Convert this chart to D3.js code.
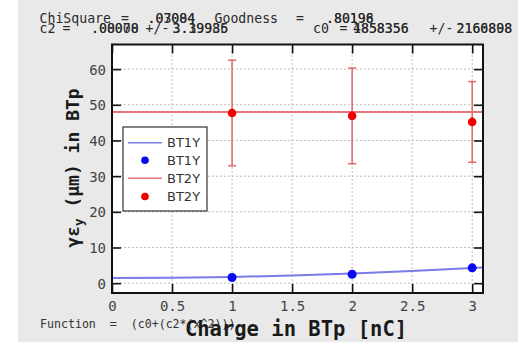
<!DOCTYPE html>
<html>
<head>
<meta charset="utf-8">
<script src="https://cdn.jsdelivr.net/npm/d3@7/dist/d3.min.js"></script>
<style>
  html, body { margin: 0; padding: 0; background: #ffffff; }
  svg { display: block; }
</style>
</head>
<body>
<script>
// Beam charge scan: vertical normalised emittance at BTp for two monitors
const charge = [1, 2, 3];                 // nC
const bt1y = [1.6, 2.5, 4.3];             // μm
const bt2y = [47.7, 46.9, 45.2];          // μm
const bt2yErr = [14.8, 13.4, 11.3];       // μm

// Fitted curves c0 + c2*x^2, sampled across the charge axis
const fitX = [0, 0.5, 1, 1.5, 2, 2.5, 3, 3.09];
const fitBt1y = [1.45, 1.53, 1.76, 2.15, 2.69, 3.39, 4.24, 4.41];
const fitBt2y = [48.0, 48.0, 48.0, 48.0, 48.0, 48.0, 48.0, 48.0];

const xTicks = [0, 0.5, 1, 1.5, 2, 2.5, 3];
const xTickLabels = ["0", "0.5", "1", "1.5", "2", "2.5", "3"];
const yTicks = [0, 10, 20, 30, 40, 50, 60];
const yTickLabels = ["0", "10", "20", "30", "40", "50", "60"];

// Fit summaries printed above the frame (both fits overprint each other)
const fitChi = [".03004", ".07084"];
const fitGood = [".80196", ".80198"];
const fitC2 = [".00000", ".08078"];
const fitC2Err = ["3.39986", "3.19935"];
const fitC0 = ["4858356", "1858356"];
const fitC0Err = ["2166898", "2160808"];

const legendLabels = ["BT1Y", "BT1Y", "BT2Y", "BT2Y"];

const W = 525, H = 347;
const svg = d3.select("body").append("svg").attr("width", W).attr("height", H);

// panel background
svg.append("rect").attr("x", 18).attr("y", 0).attr("width", 500).attr("height", 342)
  .attr("fill", "#e9e9e9");

const x = d3.scaleLinear().domain([0, 3.09]).range([112, 483]);
const y = d3.scaleLinear().domain([-2.75, 66.9]).range([293, 44.5]);

// plot area
svg.append("rect").attr("x", 112).attr("y", 44.5).attr("width", 371).attr("height", 248.5)
  .attr("fill", "#ffffff");

// dotted grid
const grid = svg.append("g").attr("stroke", "#bdbdbd").attr("stroke-width", 1)
  .attr("stroke-dasharray", "2,2");
xTicks.forEach(t => grid.append("line").attr("x1", x(t)).attr("x2", x(t))
  .attr("y1", y.range()[0]).attr("y2", y.range()[1]));
yTicks.forEach(t => grid.append("line").attr("y1", y(t)).attr("y2", y(t))
  .attr("x1", x.range()[0]).attr("x2", x.range()[1]));

// fit lines
const line = d3.line().x((d, i) => x(fitX[i])).y(d => y(d));
svg.append("path").datum(fitBt2y).attr("d", line).attr("fill", "none")
  .attr("stroke", "#e87878").attr("stroke-width", 2);
svg.append("path").datum(fitBt1y).attr("d", line).attr("fill", "none")
  .attr("stroke", "#7b7be8").attr("stroke-width", 2);

// error bars for BT2Y
const eb = svg.append("g").attr("stroke", "#e06868").attr("stroke-width", 1.5);
charge.forEach((c, i) => {
  const cx = x(c), y0 = y(bt2y[i] - bt2yErr[i]), y1 = y(bt2y[i] + bt2yErr[i]);
  eb.append("line").attr("x1", cx).attr("x2", cx).attr("y1", y0).attr("y2", y1);
  eb.append("line").attr("x1", cx - 4).attr("x2", cx + 4).attr("y1", y0).attr("y2", y0);
  eb.append("line").attr("x1", cx - 4).attr("x2", cx + 4).attr("y1", y1).attr("y2", y1);
});

// points
svg.append("g").selectAll("circle").data(bt2y).join("circle")
  .attr("cx", (d, i) => x(charge[i])).attr("cy", d => y(d)).attr("r", 4.3).attr("fill", "#f00000");
svg.append("g").selectAll("circle").data(bt1y).join("circle")
  .attr("cx", (d, i) => x(charge[i])).attr("cy", d => y(d)).attr("r", 4.5).attr("fill", "#0a0af0");

// axes with ticks on all four sides, drawn inward
const minorX = d3.range(0, 3.09, 0.1);
const minorY = d3.range(-2, 67, 2);
function ticks(axisGen, scale, major, minor, tf) {
  const g = svg.append("g").attr("transform", tf);
  g.call(axisGen(scale).tickValues(minor).tickSize(4.5).tickFormat(""));
  g.call(axisGen(scale).tickValues(major).tickSize(9).tickFormat(""));
  g.selectAll(".domain").remove();
  g.selectAll("line").attr("stroke", "#111").attr("stroke-width", 1.6);
  return g;
}
ticks(d3.axisTop, x, xTicks, minorX, "translate(0,293)");
ticks(d3.axisBottom, x, xTicks, minorX, "translate(0,44.5)");
ticks(d3.axisRight, y, yTicks, minorY, "translate(112,0)");
ticks(d3.axisLeft, y, yTicks, minorY, "translate(483,0)");

// frame
svg.append("rect").attr("x", 112).attr("y", 44.5).attr("width", 371).attr("height", 248.5)
  .attr("fill", "none").attr("stroke", "#111").attr("stroke-width", 2);

// tick labels
const mono = "'DejaVu Sans Mono', monospace";
const xl = svg.append("g").attr("transform", "translate(0,311)")
  .call(d3.axisBottom(x).tickValues(xTicks).tickSize(0).tickPadding(0)
    .tickFormat((d, i) => xTickLabels[i]));
xl.select(".domain").remove();
xl.selectAll("text").attr("font-family", mono).attr("font-size", 14).attr("fill", "#444")
  .attr("dy", 0).attr("y", 0);
const yl = svg.append("g").attr("transform", "translate(106,0)")
  .call(d3.axisLeft(y).tickValues(yTicks).tickSize(0).tickPadding(0)
    .tickFormat((d, i) => yTickLabels[i]));
yl.select(".domain").remove();
yl.selectAll("text").attr("font-family", mono).attr("font-size", 14).attr("fill", "#444")
  .attr("dy", "0.35em").attr("x", 0);

// axis titles
svg.append("text").attr("x", 40).attr("y", 327.5)
  .attr("font-family", mono).attr("font-size", 11.6).attr("fill", "#333")
  .attr("xml:space", "preserve").text("Function  =  (c0+(c2*(x^2)))");
svg.append("text").attr("x", 296).attr("y", 336).attr("text-anchor", "middle")
  .attr("font-family", mono).attr("font-weight", "bold").attr("font-size", 20.5)
  .attr("fill", "#1a1a1a").text("Charge in BTp [nC]");
const yt = svg.append("text").attr("transform", "translate(79,168) rotate(-90)")
  .attr("text-anchor", "middle").attr("font-family", mono).attr("font-weight", "bold")
  .attr("font-size", 18).attr("fill", "#1a1a1a");
yt.append("tspan").text("γε");
yt.append("tspan").attr("font-size", 12.5).attr("dy", 4).text("y");
yt.append("tspan").attr("dy", -4).attr("xml:space", "preserve").text(" (μm) in BTp");

// header with fit results
const hdr = svg.append("g").attr("font-family", mono).attr("font-size", 13.2).attr("fill", "#2a2a2a");
function put(txt, px, py) { hdr.append("text").attr("x", px).attr("y", py).text(txt); }
put("ChiSquare", 39.5, 22.5); put("=", 121, 22.5); put("Goodness", 214.5, 22.5); put("=", 296, 22.5);
put("c2", 39.5, 33); put("=", 62.5, 33); put("+/-", 145.5, 33); put("c0", 313, 33); put("=", 339.5, 33);
put("+/-", 429.5, 33);
[0, 1].forEach(k => {
  put(fitChi[k], 147.5, 22.5); put(fitGood[k], 326, 22.5);
  put(fitC2[k], 91, 33); put(fitC2Err[k], 172.5, 33);
  put(fitC0[k], 353, 33); put(fitC0Err[k], 456.5, 33);
});

// legend
const lg = svg.append("g");
lg.append("rect").attr("x", 123).attr("y", 127).attr("width", 84).attr("height", 84)
  .attr("fill", "#ffffff").attr("stroke", "#333").attr("stroke-width", 1.2);
const rowY = [142.7, 160.3, 178.3, 196.5];
const lcol = ["#7b7be8", "#0a0af0", "#e87878", "#f00000"];
legendLabels.forEach((lab, i) => {
  if (i % 2 === 0) {
    lg.append("line").attr("x1", 128).attr("x2", 162).attr("y1", rowY[i]).attr("y2", rowY[i])
      .attr("stroke", lcol[i]).attr("stroke-width", 1.6);
  } else {
    lg.append("circle").attr("cx", 145).attr("cy", rowY[i]).attr("r", 3.8).attr("fill", lcol[i]);
  }
  lg.append("text").attr("x", 167).attr("y", rowY[i]).attr("dy", "0.36em")
    .attr("font-family", "'DejaVu Sans', sans-serif").attr("font-size", 13).attr("fill", "#333")
    .text(lab);
});
</script>
</body>
</html>
